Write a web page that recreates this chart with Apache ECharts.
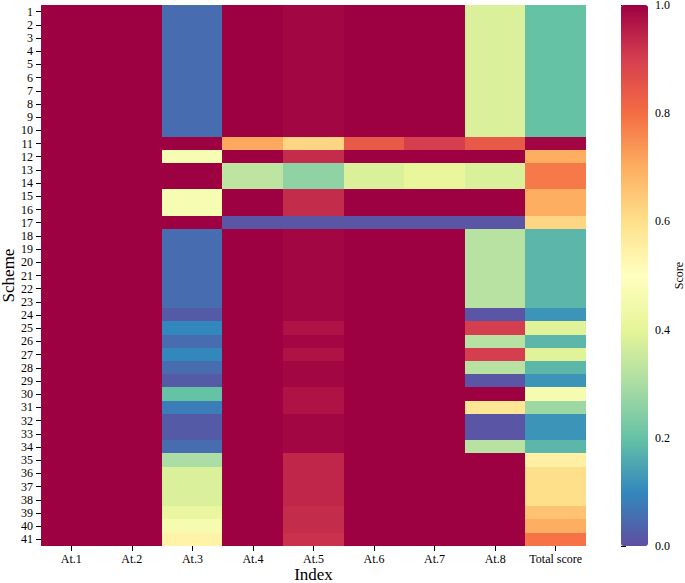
<!DOCTYPE html>
<html>
<head>
<meta charset="utf-8">
<script src="https://cdn.jsdelivr.net/npm/echarts@6/dist/echarts.min.js"></script>
<style>
  html, body { margin: 0; padding: 0; background: #fff; }
  #chart { width: 685px; height: 583px; }
  /* no hairline seams between neighbouring cells */
  #chart svg path, #chart svg rect { shape-rendering: crispEdges; }
</style>
</head>
<body>
<div id="chart"></div>
<script>
// columns and row labels
var indexNames = ['At.1', 'At.2', 'At.3', 'At.4', 'At.5', 'At.6', 'At.7', 'At.8', 'Total score'];
var schemes = [];
for (var s = 1; s <= 41; s++) schemes.push(String(s));

// scores per column, scheme 1 .. 41
var at1 = [1,1,1,1,1,1,1,1,1,1, 1,1,1,1,1,1,1,1,1,1, 1,1,1,1,1,1,1,1,1,1, 1,1,1,1,1,1,1,1,1,1, 1];
var at2 = [1,1,1,1,1,1,1,1,1,1, 1,1,1,1,1,1,1,1,1,1, 1,1,1,1,1,1,1,1,1,1, 1,1,1,1,1,1,1,1,1,1, 1];
var at3 = [0.05,0.05,0.05,0.05,0.05,0.05,0.05,0.05,0.05,0.05,
           1,0.47,1,1,0.47,0.47,1,0.05,0.05,0.05,
           0.05,0.05,0.05,0.02,0.1,0.05,0.1,0.05,0.02,0.2,
           0.08,0.02,0.02,0.05,0.3,0.38,0.38,0.38,0.42,0.46,
           0.54];
var at4 = [1,1,1,1,1,1,1,1,1,1,
           0.71,1,0.33,0.33,1,1,0.01,1,1,1,
           1,1,1,1,1,1,1,1,1,1,
           1,1,1,1,1,1,1,1,1,1,
           1];
var at5 = [0.99,0.99,0.99,0.99,0.99,0.99,0.99,0.99,0.99,0.99,
           0.62,0.93,0.26,0.26,0.93,0.93,0.01,0.99,0.99,0.99,
           0.99,0.99,0.99,0.99,0.97,0.99,0.97,0.99,0.99,0.97,
           0.97,0.99,0.99,0.99,0.94,0.94,0.94,0.94,0.93,0.93,
           0.92];
var at6 = [1,1,1,1,1,1,1,1,1,1,
           0.84,1,0.38,0.38,1,1,0.01,1,1,1,
           1,1,1,1,1,1,1,1,1,1,
           1,1,1,1,1,1,1,1,1,1,
           1];
var at7 = [1,1,1,1,1,1,1,1,1,1,
           0.9,1,0.41,0.41,1,1,0.01,1,1,1,
           1,1,1,1,1,1,1,1,1,1,
           1,1,1,1,1,1,1,1,1,1,
           1];
var at8 = [0.38,0.38,0.38,0.38,0.38,0.38,0.38,0.38,0.38,0.38,
           0.84,1,0.38,0.38,1,1,0.01,0.32,0.32,0.32,
           0.32,0.32,0.32,0.01,0.9,0.32,0.9,0.32,0.01,1,
           0.58,0.01,0.01,0.32,1,1,1,1,1,1,
           1];
var total = [0.2,0.2,0.2,0.2,0.2,0.2,0.2,0.2,0.2,0.2,
             0.99,0.7,0.78,0.78,0.7,0.7,0.62,0.18,0.18,0.18,
             0.18,0.18,0.18,0.12,0.39,0.18,0.39,0.18,0.12,0.46,
             0.28,0.12,0.12,0.18,0.55,0.6,0.6,0.6,0.66,0.7,
             0.79];

// colorbar ticks
var scoreTicks = [0, 0.2, 0.4, 0.6, 0.8, 1.0];

// Spectral, reversed (low = purple, high = dark red)
var spectralR = ['#5e4fa2', '#3288bd', '#66c2a5', '#abdda4', '#e6f598', '#ffffbf',
                 '#fee08b', '#fdae61', '#f46d43', '#d53e4f', '#9e0142'];

var columns = [at1, at2, at3, at4, at5, at6, at7, at8, total];
var cells = [];
columns.forEach(function (col, x) {
    col.forEach(function (v, y) {
        cells.push([x, y, v]);
    });
});

var serif = 'Liberation Serif';
var chart = echarts.init(document.getElementById('chart'), null, { renderer: 'svg' });

chart.setOption({
    animation: false,
    backgroundColor: '#fff',
    grid: [
        { left: 41, right: 99, top: 5, bottom: 37, outerBoundsMode: 'none' },
        { left: 621, width: 27, top: 5, bottom: 37, outerBoundsMode: 'none' }
    ],
    xAxis: [{
        type: 'category',
        gridIndex: 0,
        data: indexNames,
        name: 'Index',
        nameLocation: 'middle',
        nameMoveOverlap: false,
        nameGap: 20,
        nameTextStyle: { fontFamily: serif, fontSize: 17, color: '#000' },
        axisLine: { show: false },
        axisTick: { show: true, alignWithLabel: true, length: 5, lineStyle: { color: '#000' } },
        axisLabel: { fontFamily: serif, fontSize: 12, color: '#000', margin: 7, interval: 0 },
        splitLine: { show: false }
    }, {
        type: 'value',
        gridIndex: 1,
        show: false,
        min: 0,
        max: 1
    }],
    yAxis: [{
        type: 'category',
        gridIndex: 0,
        data: schemes,
        inverse: true,
        name: 'Scheme',
        nameLocation: 'middle',
        nameMoveOverlap: false,
        nameGap: 24,
        nameTextStyle: { fontFamily: serif, fontSize: 17, color: '#000' },
        axisLine: { show: false },
        axisTick: { show: true, alignWithLabel: true, length: 5, lineStyle: { color: '#000' } },
        axisLabel: { fontFamily: serif, fontSize: 12, color: '#000', margin: 8, interval: 0 },
        splitLine: { show: false }
    }, {
        type: 'value',
        gridIndex: 1,
        position: 'right',
        min: scoreTicks[0],
        max: scoreTicks[scoreTicks.length - 1],
        interval: 0.2,
        name: 'Score',
        nameLocation: 'middle',
        nameMoveOverlap: false,
        nameRotate: 90,
        nameGap: 25,
        nameTextStyle: { fontFamily: serif, fontSize: 12, color: '#000' },
        axisLine: { show: false },
        axisTick: { show: true, length: 5, lineStyle: { color: '#000' } },
        axisLabel: {
            fontFamily: serif, fontSize: 12, color: '#000', margin: 7,
            formatter: function (v) { return v.toFixed(1); }
        },
        splitLine: { show: false }
    }],
    visualMap: {
        type: 'continuous',
        min: 0,
        max: 1,
        seriesIndex: 0,
        calculable: false,
        hoverLink: false,
        orient: 'vertical',
        left: 621,
        top: 5,
        padding: 0,
        itemWidth: 27,
        itemHeight: 541,
        text: null,
        showLabel: false,
        inRange: { color: spectralR }
    },
    series: [{
        type: 'heatmap',
        xAxisIndex: 0,
        yAxisIndex: 0,
        data: cells,
        itemStyle: { borderWidth: 0 },
        emphasis: { disabled: true }
    }]
});
</script>
</body>
</html>
